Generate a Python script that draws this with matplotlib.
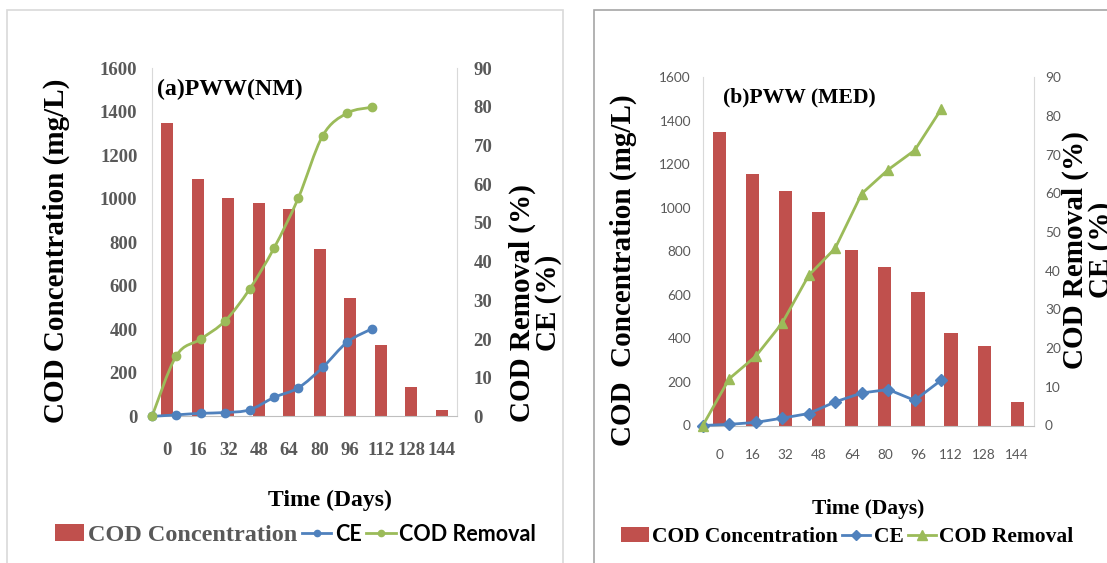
import numpy as np
import matplotlib
matplotlib.use("Agg")
import matplotlib.pyplot as plt
from matplotlib.path import Path
from matplotlib.patches import PathPatch, Rectangle, Patch
from matplotlib.lines import Line2D

# ---------------- data ----------------
days = ["0", "16", "32", "48", "64", "80", "96", "112", "128", "144"]

cod_conc_a = [1350, 1090, 1005, 980, 955, 767, 544, 330, 137, 28]
ce_a = [0, 0.4, 0.8, 1.0, 1.7, 4.9, 7.4, 12.7, 19.2, 22.6]
cod_rem_a = [0, 15.7, 20.0, 24.7, 32.9, 43.5, 56.5, 72.6, 78.4, 79.9]

cod_conc_b = [1348, 1157, 1079, 980, 808, 729, 614, 426, 364, 109]
ce_b = [0, 0.3, 0.8, 1.9, 3.1, 6.1, 8.4, 9.3, 6.5, 11.7]
cod_rem_b = [0, 12.1, 17.9, 26.5, 38.8, 45.8, 59.9, 66.1, 71.1, 81.7]

left_ticks = [0, 200, 400, 600, 800, 1000, 1200, 1400, 1600]
right_ticks = [0, 10, 20, 30, 40, 50, 60, 70, 80, 90]

# ---------------- style ----------------
RED = "#C0504D"
BLUE = "#4F81BD"
GREEN = "#9BBB59"
GRAY_TXT = "#595959"
SERIF = ["Liberation Serif", "DejaVu Serif"]
NARROW = ["Lato", "DejaVu Sans"]

W, H = 1107, 563
fig = plt.figure(figsize=(W / 100, H / 100), dpi=100)
fig.patch.set_facecolor("white")


def px_rect(x0, x1, ytop, ybot):
    return [x0 / W, 1 - ybot / H, (x1 - x0) / W, (ybot - ytop) / H]


def smooth_path(ax, xs, ys):
    pts = ax.transData.transform(np.column_stack([xs, ys]))
    n = len(pts)
    verts = [pts[0]]
    codes = [Path.MOVETO]
    for i in range(n - 1):
        p0 = pts[i - 1] if i > 0 else pts[i]
        p1 = pts[i]
        p2 = pts[i + 1]
        p3 = pts[i + 2] if i + 2 < n else pts[i + 1]
        c1 = p1 + (p2 - p0) / 6.0
        c2 = p2 - (p3 - p1) / 6.0
        verts += [c1, c2, p2]
        codes += [Path.CURVE4] * 3
    data = ax.transData.inverted().transform(np.array(verts))
    return Path(data, codes)


def panel(rect, conc, ce, rem, bold, smooth, ce_marker, rem_marker, title,
          title_xy, ylab, ylab_xy, rlab_xy, xlab_xy, tick_pads, lab_sizes):
    ax = fig.add_axes(rect)
    x = np.arange(len(days))
    ax.bar(x, conc, width=0.4, color=RED, zorder=2)
    ax.set_xlim(-0.5, len(days) - 0.5)
    ax.set_ylim(0, 1600)
    ax.set_yticks(left_ticks)
    ax.set_xticks(x)
    ax.set_xticklabels(days)
    ax.spines["top"].set_visible(False)
    for s in ["left", "right"]:
        ax.spines[s].set_color("#d9d9d9")
    ax.spines["bottom"].set_color("#bfbfbf")
    ax.tick_params(length=0)
    if bold:
        tfont = dict(family=SERIF, weight="bold", size=13.5)
    else:
        tfont = dict(family=NARROW, weight="normal", size=9.8)
    for lab in ax.get_yticklabels() + ax.get_xticklabels():
        lab.set_fontfamily(tfont["family"])
        lab.set_fontweight(tfont["weight"])
        lab.set_fontsize(tfont["size"])
        lab.set_color(GRAY_TXT)
    ax.tick_params(axis="y", pad=tick_pads[0])
    ax.tick_params(axis="x", pad=tick_pads[1])

    ax.set_ylabel(ylab, family=SERIF, weight="bold", size=lab_sizes[0], color="black")
    ax.yaxis.set_label_coords(*ylab_xy)
    ax.set_xlabel("Time (Days)", family=SERIF, weight="bold", size=lab_sizes[1], color="black")
    ax.xaxis.set_label_coords(*xlab_xy)
    ax.text(title_xy[0], title_xy[1], title, transform=ax.transAxes, ha="left",
            va="center", family=SERIF, weight="bold", size=lab_sizes[2], color="black", zorder=5)

    # line axis (secondary category axis)
    ax2 = fig.add_axes(rect, label=title + "_line")
    ax2.patch.set_visible(False)
    ax2.set_xlim(0, 12.5)
    ax2.set_ylim(0, 90)
    ax2.set_yticks(right_ticks)
    ax2.xaxis.set_visible(False)
    for s in ["top", "left", "bottom", "right"]:
        ax2.spines[s].set_visible(False)
    ax2.yaxis.tick_right()
    ax2.tick_params(length=0, pad=tick_pads[2])
    for lab in ax2.get_yticklabels():
        lab.set_fontfamily(tfont["family"])
        lab.set_fontweight(tfont["weight"])
        lab.set_fontsize(tfont["size"])
        lab.set_color(GRAY_TXT)
    xl = np.arange(len(ce))
    for yv, col, mk, ms in [(ce, BLUE, ce_marker[0], ce_marker[1]),
                            (rem, GREEN, rem_marker[0], rem_marker[1])]:
        if smooth:
            ax2.add_patch(PathPatch(smooth_path(ax2, xl, yv), facecolor="none",
                                    edgecolor=col, lw=2.0, zorder=3, clip_on=False))
            ax2.plot(xl, yv, ls="none", marker=mk, ms=ms, color=col, zorder=4, clip_on=False)
        else:
            ax2.plot(xl, yv, lw=2.0, marker=mk, ms=ms, color=col, zorder=4, clip_on=False)
    fig.text(rlab_xy[0], rlab_xy[1], "COD Removal (%)\nCE (%)", rotation=90,
             ha="center", va="center", multialignment="center", family=SERIF,
             weight="bold", size=lab_sizes[3], linespacing=0.95)
    return ax, ax2


# panel borders
fig.add_artist(Rectangle((7 / W, -0.1), (563 - 7) / W, 1.1 - 10 / H, transform=fig.transFigure,
                         facecolor="none", edgecolor="#d9d9d9", lw=1.2))
fig.add_artist(Rectangle((594 / W, -0.1), 0.6, 1.1 - 10 / H, transform=fig.transFigure,
                         facecolor="none", edgecolor="#a6a6a6", lw=1.2))

# ---------------- panel (a) ----------------
rect_a = px_rect(152, 457, 68.2, 416.4)
axa, axa2 = panel(rect_a, cod_conc_a, ce_a, cod_rem_a, True, True, ("o", 6), ("o", 6),
                  "(a)PWW(NM)", (0.015, 0.94), "COD Concentration (mg/L)",
                  (-0.269, 0.475), (535 / W, 1 - 303 / H), (0.584, -0.21),
                  (10.5, 18.5, 12), (21, 17, 17.2, 21))

# ---------------- panel (b) ----------------
rect_b = px_rect(702.8, 1033.8, 77.2, 425.5)
axb, axb2 = panel(rect_b, cod_conc_b, ce_b, cod_rem_b, False, False, ("D", 6), ("^", 7.5),
                  "(b)PWW (MED)", (0.062, 0.943), "COD  Concentration (mg/L)",
                  (-0.2, 0.446), (1088 / W, 1 - 250 / H), (0.5, -0.21),
                  (8.5, 17, 8), (21, 15.5, 15.6, 21))


# ---------------- legends ----------------
def make_legend(anchor, ce_mk, rem_mk, size, text_specs, handlelength):
    handles = [Patch(facecolor=RED, edgecolor="none"),
               Line2D([], [], color=BLUE, lw=2, marker=ce_mk[0], ms=ce_mk[1]),
               Line2D([], [], color=GREEN, lw=2, marker=rem_mk[0], ms=rem_mk[1])]
    leg = fig.legend(handles, ["COD Concentration", "CE", "COD Removal"], loc="center left",
                     bbox_to_anchor=anchor, ncol=3, frameon=False, borderpad=0,
                     handlelength=handlelength, handletextpad=0.15, columnspacing=0.2,
                     prop=dict(family=SERIF, weight="bold", size=size), borderaxespad=0)
    for t, (fam, col, sz) in zip(leg.get_texts(), text_specs):
        t.set_fontfamily(fam)
        t.set_color(col)
        t.set_fontsize(sz)
        t.set_fontweight("bold")
    return leg


make_legend((55 / W, 1 - 535 / H), ("o", 4.5), ("o", 4.5), 17.5,
            [(SERIF, GRAY_TXT, 17.5), (NARROW, "black", 15.5), (NARROW, "black", 15.5)], 1.2)
make_legend((621 / W, 1 - 537 / H), ("D", 5.5), ("^", 7), 15.5,
            [(SERIF, "black", 15.5), (SERIF, "black", 15.5), (SERIF, "black", 15.5)], 1.3)

fig.savefig("out.png", dpi=100, facecolor="white")
